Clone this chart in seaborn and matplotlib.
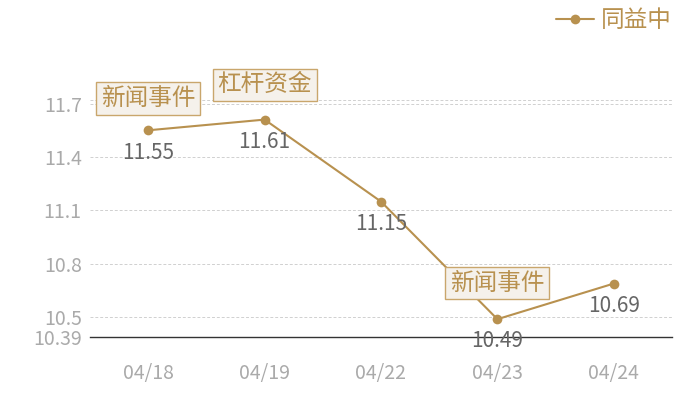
import matplotlib
matplotlib.use("Agg")
import matplotlib.pyplot as plt
import seaborn as sns
import pandas as pd

dates = ["04/18", "04/19", "04/22", "04/23", "04/24"]
values = [11.55, 11.61, 11.15, 10.49, 10.69]
series_name = "同益中"
event_idx = [0, 1, 3]
event_text = ["新闻事件", "杠杆资金", "新闻事件"]
yticks = [10.39, 10.5, 10.8, 11.1, 11.4, 11.7]

sns.set_theme(style="white")
plt.rcParams['font.family'] = ['Noto Sans CJK SC', 'DejaVu Sans']

LINE = "#b8914f"
df = pd.DataFrame({"date": dates, "value": values, "series": series_name})

fig = plt.figure(figsize=(7, 4), dpi=100)
ax = fig.add_axes([90/700, 63/400, 582/700, 237/400])
x = list(range(len(dates)))
df["x"] = x
sns.lineplot(data=df, x="x", y="value", hue="series", palette=[LINE], marker="o",
             markersize=7, markeredgewidth=0, linewidth=1.5, ax=ax, legend=False)

ax.set_xlim(-0.5, len(dates) - 0.5)
ax.set_ylim(10.39, 11.72)
ax.set_xticks(x)
ax.set_xticklabels(dates)
ax.set_yticks(yticks)
ax.set_yticklabels([f"{v:g}" for v in yticks])
ax.tick_params(axis="both", length=0, labelsize=14, colors="#aaaaaa")
ax.tick_params(axis="x", pad=19)
ax.tick_params(axis="y", pad=6)
ax.set_xlabel("")
ax.set_ylabel("")
for s in ["top", "right", "left"]:
    ax.spines[s].set_visible(False)
ax.spines["bottom"].set_color("#333333")
ax.spines["bottom"].set_linewidth(1)

for t in yticks[1:]:
    ax.axhline(t, color="#d0d0d0", linestyle=(0, (3, 2)), linewidth=0.7, zorder=0)
ax.axhline(11.72, color="#d0d0d0", linestyle=(0, (3, 2)), linewidth=0.7, zorder=0)

for xi, v in zip(x, values):
    ax.annotate(f"{v:.2f}", (xi, v), xytext=(0, -16), textcoords="offset points",
                ha="center", va="center", fontsize=15, color="#666666")

offsets = {0: (0, 23), 1: (0, 25), 3: (0, 26)}
for i, txt in zip(event_idx, event_text):
    ax.annotate(txt, (x[i], values[i]), xytext=offsets.get(i, (0, 25)), textcoords="offset points",
                ha="center", va="center", fontsize=17, color="#b8914f",
                bbox=dict(boxstyle="square,pad=0.2", facecolor="#f5f1eb", edgecolor="#c9a66c", linewidth=1),
                annotation_clip=False, zorder=5)

# legend
from matplotlib.lines import Line2D
h = Line2D([], [], color=LINE, marker="o", markersize=7, markeredgewidth=0, linewidth=1.5)
fig.legend([h], [series_name], loc="upper right", bbox_to_anchor=(0.99, 1.03), frameon=False,
           fontsize=17, labelcolor=LINE, handlelength=1.6, handletextpad=0.3)

fig.savefig("out.png", dpi=100)
